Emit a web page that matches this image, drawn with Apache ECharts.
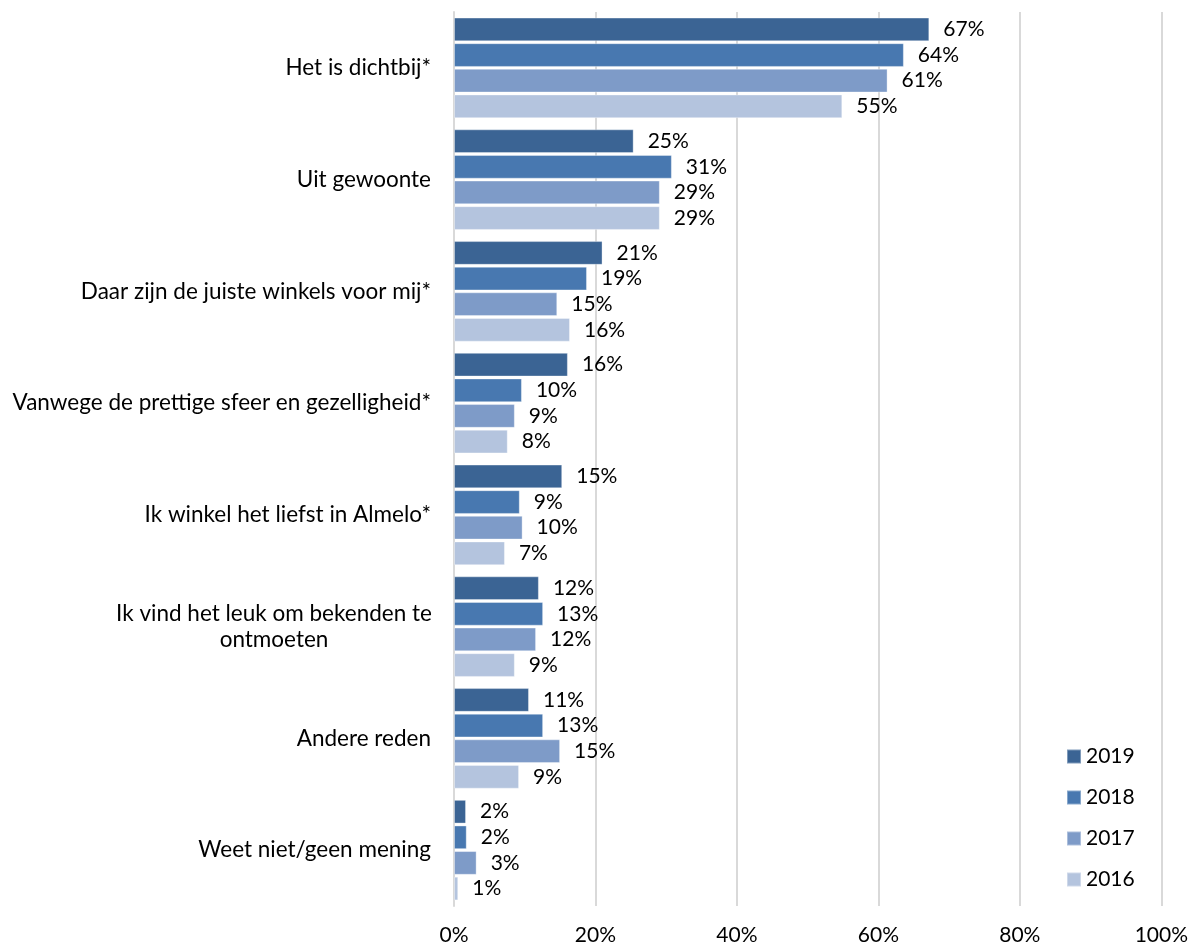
<!DOCTYPE html>
<html>
<head>
<meta charset="utf-8">
<script src="https://cdn.jsdelivr.net/npm/echarts@6/dist/echarts.min.js"></script>
<style>html,body{margin:0;padding:0;background:#fff}#c{width:1191px;height:947px}</style>
</head>
<body>
<div id="c"></div>
<script>
const categories = [
  'Het is dichtbij*',
  'Uit gewoonte',
  'Daar zijn de juiste winkels voor mij*',
  'Vanwege de prettige sfeer en gezelligheid*',
  'Ik winkel het liefst in Almelo*',
  'Ik vind het leuk om bekenden te ontmoeten',
  'Andere reden',
  'Weet niet/geen mening'
];
const years = ['2019', '2018', '2017', '2016'];
const v2019 = [67.2, 25.4, 21.0, 16.1, 15.3, 12.0, 10.6, 1.7];
const v2018 = [63.6, 30.8, 18.8, 9.6, 9.3, 12.6, 12.6, 1.8];
const v2017 = [61.3, 29.1, 14.6, 8.6, 9.7, 11.6, 15.0, 3.2];
const v2016 = [54.9, 29.1, 16.4, 7.6, 7.2, 8.6, 9.2, 0.6];
const xTicks = [0, 20, 40, 60, 80, 100];
const colors = ['#3b6494', '#4878b0', '#7e9bc8', '#b4c4de'];

const FONT = 'Lato';
const values = [v2019, v2018, v2017, v2016];
const chart = echarts.init(document.getElementById('c'), null, {renderer: 'canvas'});
chart.setOption({
  animation: false,
  textStyle: {fontFamily: FONT},
  grid: {left: 454, right: 29, top: 12, bottom: 41},
  legend: {
    orient: 'vertical',
    left: 1061,
    top: 741,
    itemWidth: 14,
    itemHeight: 14,
    itemGap: 20,
    icon: 'rect',
    textStyle: {fontFamily: FONT, fontSize: 21, color: '#000'},
    data: years
  },
  xAxis: {
    type: 'value',
    min: 0, max: 100, interval: 20,
    axisLine: {show: false},
    axisTick: {show: false},
    splitLine: {show: true, lineStyle: {color: '#d9d9d9', width: 2}},
    axisLabel: {
      fontFamily: FONT, fontSize: 21, color: '#000', margin: 19,
      formatter: function (v) { return xTicks.indexOf(v) >= 0 ? v + '%' : ''; }
    }
  },
  yAxis: {
    type: 'category',
    inverse: true,
    data: categories,
    axisTick: {show: false},
    axisLine: {show: true, lineStyle: {color: '#d9d9d9', width: 2}},
    axisLabel: {
      fontFamily: FONT, fontSize: 22.5, color: '#000', margin: 23,
      formatter: function (v) {
        if (v === 'Ik vind het leuk om bekenden te ontmoeten') {
          return '{c|Ik vind het leuk om bekenden te}\n{c|ontmoeten}';
        }
        return v;
      },
      rich: {c: {fontFamily: FONT, fontSize: 22.5, color: '#000', align: 'center', width: 314, lineHeight: 26}}
    }
  },
  series: years.map((y, i) => ({
    name: y,
    type: 'bar',
    data: values[i],
    barCategoryGap: '10%',
    barGap: '8%',
    itemStyle: {color: colors[i], borderColor: 'rgba(255,255,255,0.35)', borderWidth: 1},
    label: {
      show: true, position: 'right', distance: 14,
      fontFamily: FONT, fontSize: 21, color: '#000',
      formatter: p => Math.round(p.value) + '%'
    }
  }))
});
</script>
</body>
</html>
